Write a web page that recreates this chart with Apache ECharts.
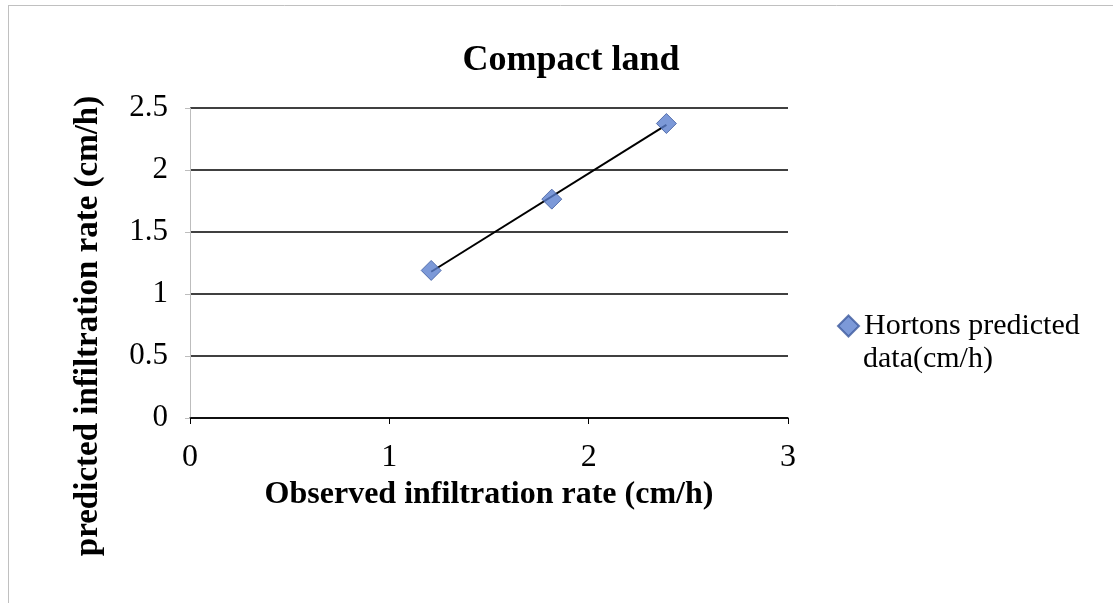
<!DOCTYPE html>
<html><head><meta charset="utf-8">
<script src="https://cdn.jsdelivr.net/npm/echarts@6/dist/echarts.min.js"></script>
<style>html,body{margin:0;padding:0;background:#fff}#c{width:1113px;height:603px}</style>
</head><body><div id="c"></div>
<script>
const observed = [1.21, 1.815, 2.39];
const predicted = [1.19, 1.765, 2.375];
const xTicks = [0, 1, 2, 3];
const yTicks = [0, 0.5, 1, 1.5, 2, 2.5];
const seriesName = 'Hortons predicted data(cm/h)';
const legendLine1 = 'Hortons predicted';
const legendLine2 = 'data(cm/h)';
const titleText = 'Compact land';
const xName = 'Observed infiltration rate (cm/h)';
const yName = 'predicted infiltration rate (cm/h)';

// linear trendline (least squares) over the observed range
const n = observed.length;
const mx = observed.reduce((a,b)=>a+b,0)/n, my = predicted.reduce((a,b)=>a+b,0)/n;
let sxy=0, sxx=0;
for (let i=0;i<n;i++){sxy+=(observed[i]-mx)*(predicted[i]-my);sxx+=(observed[i]-mx)**2;}
const slope = sxy/sxx, icpt = my - slope*mx;
const xmin = Math.min(...observed), xmax = Math.max(...observed);
const trend = [[xmin, icpt+slope*xmin],[xmax, icpt+slope*xmax]];

const font = 'Liberation Serif';
const chart = echarts.init(document.getElementById('c'));
chart.setOption({
  animation:false,
  textStyle:{fontFamily:font},
  title:{text:titleText,left:566,top:38,textAlign:'center',
    textStyle:{fontFamily:font,fontWeight:'bold',fontSize:36,color:'#000'}},
  grid:{left:190,right:325,top:108,bottom:185},
  legend:{orient:'vertical',left:837,top:311,itemWidth:21,itemHeight:21,itemGap:4,padding:0,
    data:[{name:seriesName,icon:'diamond'}],
    formatter:()=> legendLine1,
    textStyle:{fontFamily:font,fontSize:30,color:'#000'}},
  xAxis:{type:'value',min:0,max:3,interval:1,
    axisLine:{show:true,lineStyle:{color:'#000',width:1.5}},
    axisTick:{show:true,length:6,inside:false,lineStyle:{color:'#000'}},
    splitLine:{show:false},
    axisLabel:{fontFamily:font,fontSize:32,color:'#000',margin:24,formatter:v=>xTicks.includes(v)?String(v):''},
    name:xName,nameLocation:'middle',nameGap:57,
    nameTextStyle:{fontFamily:font,fontWeight:'bold',fontSize:32,color:'#000'}},
  yAxis:{type:'value',min:0,max:2.5,interval:0.5,
    axisLine:{show:true,lineStyle:{color:'#bdbdbd',width:1}},
    axisTick:{show:true,length:5,lineStyle:{color:'#bdbdbd'}},
    splitLine:{show:true,lineStyle:{color:'#000',width:1.5}},
    axisLabel:{fontFamily:font,fontSize:31,color:'#000',margin:22,formatter:v=>yTicks.includes(v)?String(v):''}},
  graphic:[
    {type:'text',x:88,y:326,rotation:Math.PI/2,
     style:{text:yName,fontFamily:font,fontWeight:'bold',fontSize:33,fill:'#000',
       align:'center',verticalAlign:'middle',textAlign:'center',textVerticalAlign:'middle'}},
    {type:'text',x:863,y:344,
     style:{text:legendLine2,fontFamily:font,fontSize:30,fill:'#000',align:'left',verticalAlign:'top',textAlign:'left',textVerticalAlign:'top'}},
    {type:'line',shape:{x1:8,y1:5.5,x2:1113,y2:5.5},style:{stroke:'#c0c0c0',lineWidth:1}},
    {type:'line',shape:{x1:8.5,y1:5,x2:8.5,y2:603},style:{stroke:'#c0c0c0',lineWidth:1}}
  ],
  series:[
    {name:'trend',type:'line',data:trend,symbol:'none',silent:true,
      lineStyle:{color:'#000',width:2},z:1},
    {name:seriesName,type:'scatter',data:observed.map((x,i)=>[x,predicted[i]]),
      symbol:'diamond',symbolSize:20,
      itemStyle:{color:'#5b7fce',borderColor:'#3d5a9e',borderWidth:1},z:2}
  ]
});
</script></body></html>
